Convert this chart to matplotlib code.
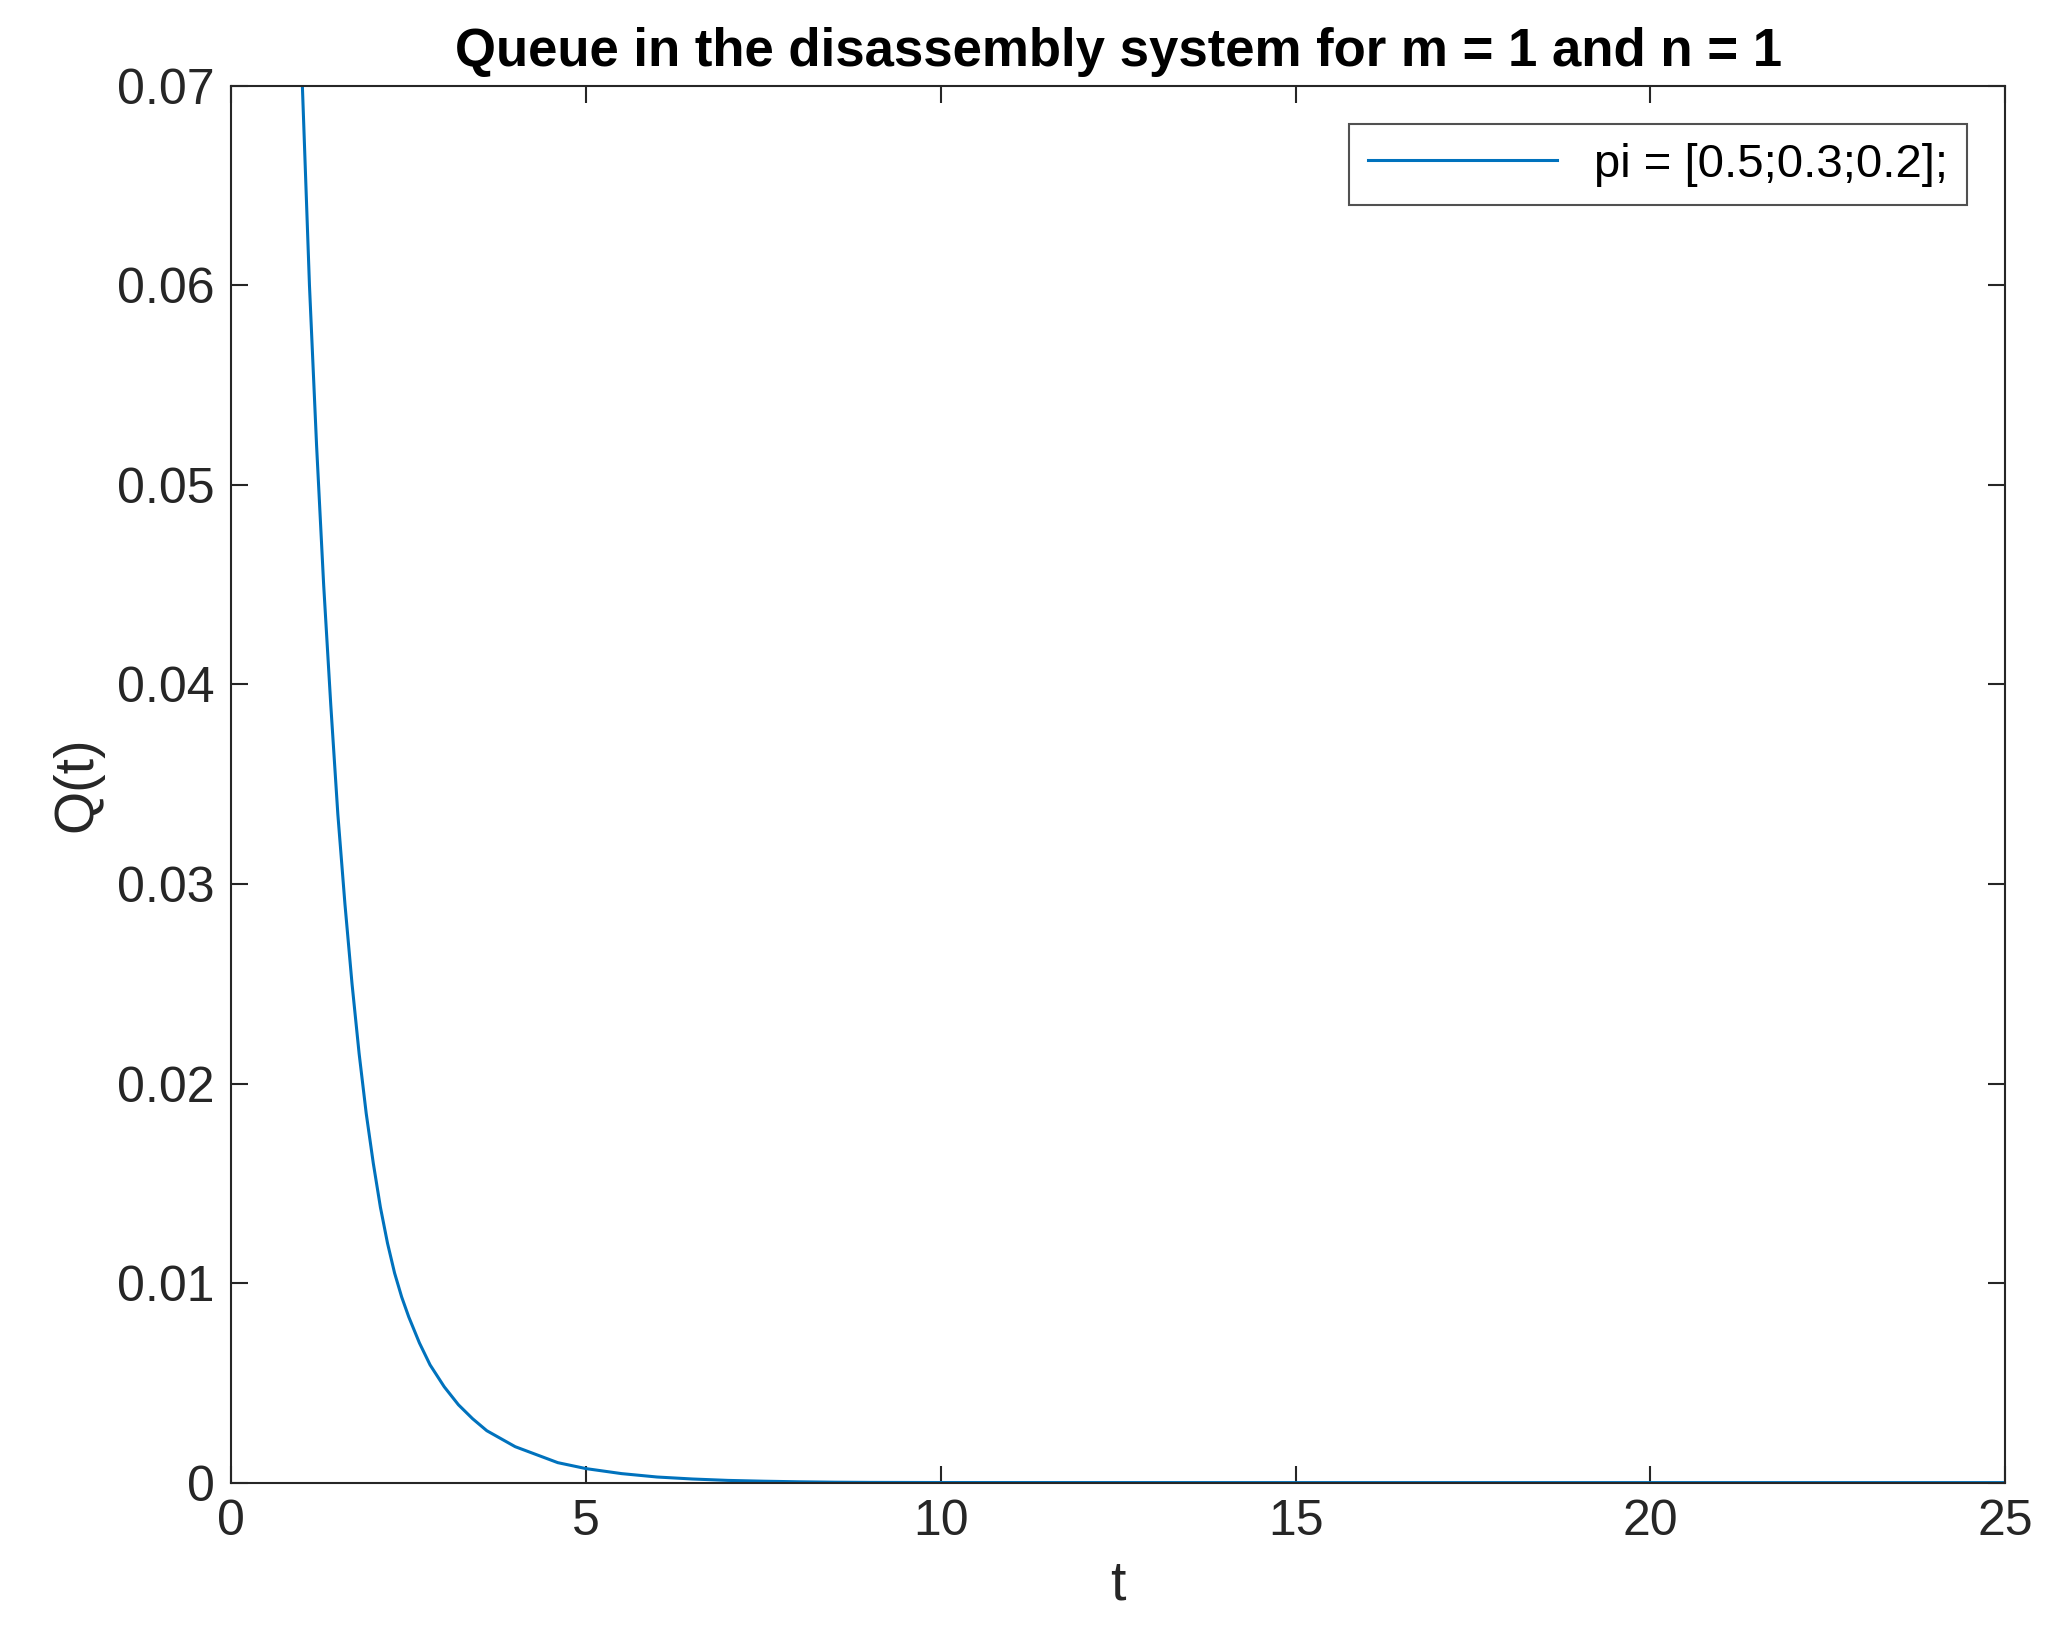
import matplotlib
matplotlib.use("Agg")
import matplotlib.pyplot as plt

t = [1.0, 1.1, 1.2, 1.3, 1.4, 1.5, 1.6, 1.7, 1.8, 1.9, 2.0, 2.1, 2.2, 2.3, 2.4, 2.5, 2.65, 2.8, 3.0, 3.2, 3.4, 3.6, 3.8, 4.0, 4.3, 4.6, 5.0, 5.5, 6.0, 6.5, 7.0, 7.5, 8.0, 8.5, 9.0, 10, 15, 20, 25]
q = [0.070, 0.0600, 0.0520, 0.0450, 0.0390, 0.0335, 0.0290, 0.0250, 0.0215, 0.0185, 0.0160, 0.0138, 0.0120, 0.0105, 0.0093, 0.0083, 0.0070, 0.0059, 0.0048, 0.0039, 0.0032, 0.0026, 0.0022, 0.0018, 0.0014, 0.0010, 0.0007, 0.00045, 0.00028, 0.00018, 0.00011, 0.00007, 0.00004, 0.00002, 0.00001, 0.000004, 0.0, 0.0, 0.0]

plt.rcParams['font.family'] = ['Liberation Sans', 'DejaVu Sans']
fig = plt.figure(figsize=(20.48, 16.51), dpi=100)
ax = fig.add_axes([0.113, 0.102, 0.866, 0.846])
ax.plot(t, q, color='#0072BD', lw=2.2, label='pi = [0.5;0.3;0.2];')
ax.set_xlim(0, 25)
ax.set_ylim(0, 0.07)
ax.set_xticks([0, 5, 10, 15, 20, 25])
ax.set_yticks([0, 0.01, 0.02, 0.03, 0.04, 0.05, 0.06, 0.07])
ax.set_yticklabels(['0', '0.01', '0.02', '0.03', '0.04', '0.05', '0.06', '0.07'])
ax.tick_params(direction='in', top=True, right=True, labelsize=36, length=12, width=1.5, colors='#262626', pad=12)
for s in ax.spines.values():
    s.set_linewidth(1.5)
    s.set_color('#262626')
ax.set_xlabel('t', fontsize=40, color='#262626', labelpad=10)
ax.set_ylabel('Q(t)', fontsize=40, color='#262626', labelpad=10)
ax.set_title('Queue in the disassembly system for m = 1 and n = 1', fontsize=38, fontweight='bold', pad=14)
leg = ax.legend(loc='upper right', fontsize=34, fancybox=False, edgecolor='#262626', handlelength=4, borderaxespad=0.8)
leg.get_frame().set_linewidth(1.5)
fig.savefig('out.png', dpi=100)
